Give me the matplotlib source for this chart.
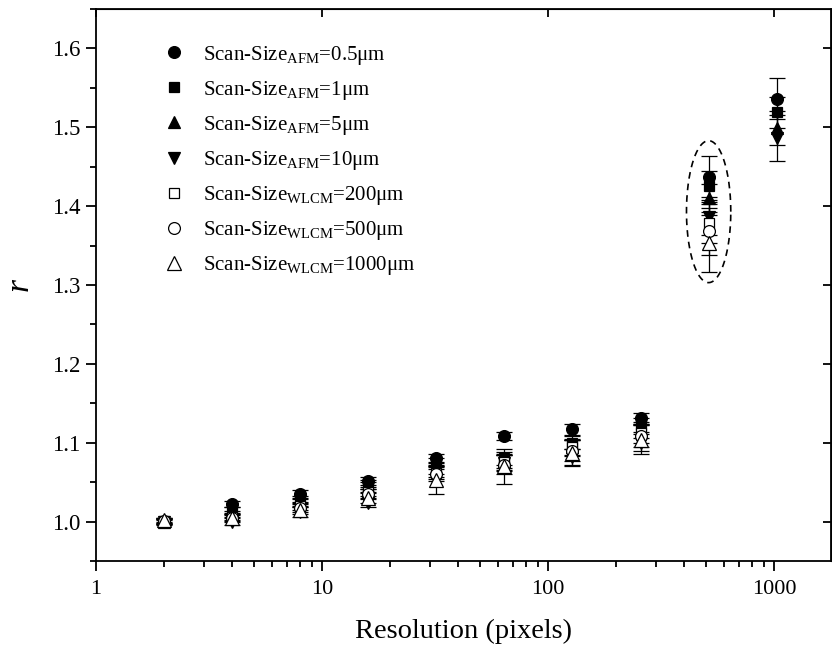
import numpy as np
import matplotlib
matplotlib.use("Agg")
import matplotlib.pyplot as plt
from matplotlib.lines import Line2D

plt.rcParams['font.family'] = ['Liberation Serif', 'DejaVu Serif']
plt.rcParams['mathtext.fontset'] = 'custom'
plt.rcParams['mathtext.rm'] = 'Liberation Serif'
plt.rcParams['mathtext.it'] = 'Liberation Serif:italic'

resolution = [2, 4, 8, 16, 32, 64, 128, 256, 512, 1024]

labels = [
    r"Scan-Size$_{\mathrm{AFM}}$=0.5μm",
    r"Scan-Size$_{\mathrm{AFM}}$=1μm",
    r"Scan-Size$_{\mathrm{AFM}}$=5μm",
    r"Scan-Size$_{\mathrm{AFM}}$=10μm",
    r"Scan-Size$_{\mathrm{WLCM}}$=200μm",
    r"Scan-Size$_{\mathrm{WLCM}}$=500μm",
    r"Scan-Size$_{\mathrm{WLCM}}$=1000μm",
]

r_afm_05 = [1.000, 1.022, 1.035, 1.052, 1.080, 1.108, 1.117, 1.131, 1.437, 1.536]
r_afm_1 = [1.000, 1.015, 1.028, 1.047, 1.074, 1.080, 1.100, 1.122, 1.425, 1.519]
r_afm_5 = [1.000, 1.010, 1.024, 1.044, 1.068, 1.077, 1.094, 1.116, 1.410, 1.499]
r_afm_10 = [0.999, 1.000, 1.012, 1.024, 1.064, 1.074, 1.082, 1.100, 1.386, 1.486]
r_wlcm_200 = [1.001, 1.006, 1.020, 1.038, 1.062, 1.075, 1.094, 1.112, 1.378, np.nan]
r_wlcm_500 = [1.001, 1.005, 1.017, 1.035, 1.060, 1.072, 1.090, 1.108, 1.368, np.nan]
r_wlcm_1000 = [1.002, 1.004, 1.015, 1.030, 1.053, 1.070, 1.087, 1.104, 1.353, np.nan]

err_afm_05 = [0.003, 0.004, 0.005, 0.005, 0.006, 0.005, 0.007, 0.007, 0.026, 0.026]
err_afm_1 = [0.003, 0.004, 0.005, 0.006, 0.007, 0.008, 0.008, 0.009, 0.020, 0.020]
err_afm_5 = [0.003, 0.004, 0.005, 0.006, 0.008, 0.009, 0.010, 0.010, 0.018, 0.022]
err_afm_10 = [0.003, 0.004, 0.006, 0.006, 0.008, 0.010, 0.010, 0.011, 0.022, 0.029]
err_wlcm_200 = [0.003, 0.004, 0.005, 0.006, 0.008, 0.010, 0.011, 0.012, 0.025, np.nan]
err_wlcm_500 = [0.003, 0.004, 0.005, 0.006, 0.009, 0.012, 0.013, 0.014, 0.030, np.nan]
err_wlcm_1000 = [0.003, 0.004, 0.005, 0.006, 0.018, 0.022, 0.017, 0.018, 0.036, np.nan]

series = [r_afm_05, r_afm_1, r_afm_5, r_afm_10, r_wlcm_200, r_wlcm_500, r_wlcm_1000]
errors = [err_afm_05, err_afm_1, err_afm_5, err_afm_10, err_wlcm_200, err_wlcm_500, err_wlcm_1000]
markers = ['o', 's', '^', 'v', 's', 'o', '^']
filled = [True, True, True, True, False, False, False]
sizes = [8.5, 7, 9, 9, 7, 8.5, 9.5]

fig = plt.figure(figsize=(8.32, 6.48), dpi=100)
ax = fig.add_axes([96/832, 87/648, 735/832, 552/648])

handles = []
for y, e, m, f, s, lab in zip(series, errors, markers, filled, sizes, labels):
    fc = 'black' if f else 'white'
    ax.errorbar(resolution, y, yerr=e, fmt=m, color='black',
                mfc=fc, mec='black', ms=s, mew=0.9,
                ecolor='black', elinewidth=0.9, capsize=6, capthick=0.9,
                linestyle='none')
    handles.append(Line2D([], [], marker=m, linestyle='none', mfc=fc,
                          mec='black', ms=s, mew=0.9, label=lab))

# dashed ellipse around the 512-pixel cluster (drawn in log-x space)
t = np.linspace(0, 2*np.pi, 300)
ell_x = 512 * 10**(0.098*np.cos(t))
ell_y = 1.393 + 0.090*np.sin(t)
ax.plot(ell_x, ell_y, color='black', linestyle=(0, (4, 3)), linewidth=1.2)

ax.set_xscale('log')
ax.set_xlim(1, 1780)
ax.set_ylim(0.95, 1.65)
ax.set_xticks([1, 10, 100, 1000])
ax.set_xticklabels(['1', '10', '100', '1000'])
ax.set_yticks([1.0, 1.1, 1.2, 1.3, 1.4, 1.5, 1.6])
ax.set_yticklabels(['1.0', '1.1', '1.2', '1.3', '1.4', '1.5', '1.6'])
ax.set_yticks(np.arange(0.95, 1.651, 0.05), minor=True)
ax.tick_params(axis='both', which='major', direction='out', length=7, width=1.3,
               top=False, right=False)
ax.tick_params(axis='x', which='major', labelsize=16, pad=7)
ax.tick_params(axis='y', which='major', labelsize=16.5, pad=4)
ax.tick_params(axis='both', which='minor', direction='out', length=4, width=1.3)
for sp in ax.spines.values():
    sp.set_linewidth(1.3)

# inward ticks on top and right
secx = ax.secondary_xaxis('top')
secx.set_xticks([1, 10, 100, 1000])
secx.tick_params(direction='in', length=6, width=1.3, labeltop=False)
secx.xaxis.set_minor_locator(matplotlib.ticker.NullLocator())
secy = ax.secondary_yaxis('right')
secy.set_yticks([1.0, 1.1, 1.2, 1.3, 1.4, 1.5, 1.6])
secy.tick_params(direction='in', length=6, width=1.3, labelright=False)

ax.set_xlabel('Resolution (pixels)', fontsize=20.5, labelpad=14)
ax.set_ylabel(r'$\mathit{r}$', fontsize=24, labelpad=12)

leg = ax.legend(handles=handles, loc='upper left', bbox_to_anchor=(0.075, 0.96),
                frameon=False, fontsize=15, handletextpad=0.9, labelspacing=0.58,
                handlelength=1.0, borderaxespad=0.2)

fig.savefig('out.png', dpi=100)
